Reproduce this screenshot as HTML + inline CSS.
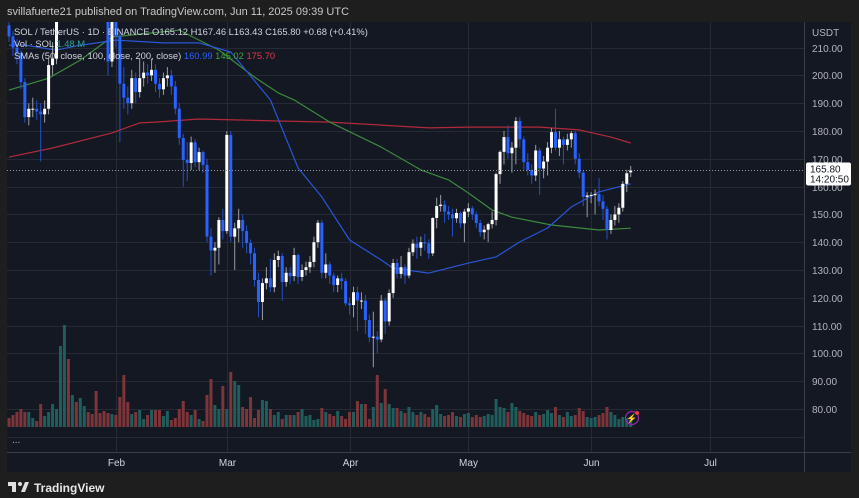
<!DOCTYPE html>
<html><head><meta charset="utf-8"><style>
html,body{margin:0;padding:0;background:#1e1e1e;width:859px;height:498px;overflow:hidden}
svg{display:block;font-family:"Liberation Sans",sans-serif}
</style></head><body>
<svg id="chart" width="859" height="498" viewBox="0 0 859 498">
<rect x="0" y="0" width="859" height="498" fill="#1e1e1e"/>
<text x="7" y="15" font-size="11" fill="#c8c8c8">svillafuerte21 published on TradingView.com, Jun 11, 2025 09:39 UTC</text>
<rect x="7" y="22" width="844" height="450" fill="#141823"/>
<g id="grid"></g>
<g id="vol"></g>
<g id="smas"></g>
<g id="candles"></g>
<rect x="804" y="22" width="47" height="450" fill="#141823"/>
<line x1="804.5" y1="22" x2="804.5" y2="472" stroke="#3a3e48"/>
<line x1="7" y1="452.5" x2="851" y2="452.5" stroke="#3a3e48"/>
<g id="axes"></g>
<text x="812" y="36" font-size="10" fill="#b2b5be">USDT</text>
<g font-size="9.4" xml:space="preserve">
<text x="14" y="35" fill="#d1d4dc">SOL / TetherUS · 1D · BINANCE  O165.12  H167.46  L163.43  C165.80  +0.68 (+0.41%)</text>
<text x="14" y="47" fill="#d1d4dc">Vol · SOL  <tspan fill="#26a69a">1.48 M</tspan></text>
<text x="14" y="59" fill="#d1d4dc">SMAs (50, close, 100, close, 200, close)  <tspan fill="#2962ff">160.99</tspan>  <tspan fill="#43a047">145.02</tspan>  <tspan fill="#e53948">175.70</tspan></text>
</g>
<text x="12" y="443" font-size="10" fill="#b2b5be">...</text>
<g>
<circle cx="632" cy="418" r="6.5" fill="none" stroke="#9c27b0" stroke-width="1.2"/>
<text x="632" y="421.5" font-size="9" fill="#b04fd0" text-anchor="middle">⚡</text>
<circle cx="637" cy="413" r="2" fill="#f23645"/>
</g>
<rect x="0" y="472" width="859" height="26" fill="#1e1e1e"/>
<g>
<rect x="8" y="482" width="8" height="4" fill="#e0e0e0"/><rect x="12" y="482" width="4" height="10" fill="#e0e0e0"/>
<circle cx="20" cy="484" r="2" fill="#e0e0e0"/><polygon points="21,492 25,482 29,482 25,492" fill="#e0e0e0"/>
<text x="34" y="492" font-size="12" font-weight="bold" fill="#e8e8e8">TradingView</text>
</g>
</svg>
<script>
const closes=[214,210,208,197.6,185,188,188,187,186,188,203.7,206,225,240,255,250,258,252,254,256,252,245,238,236,232,205,228,214,197,192,190,199,194,199,201,200,202,197,195,199,200,196,188,177.5,169.6,168.5,175.9,168.8,172.4,167.8,142,137,138,148,144,178.6,142,145,148,144,139.7,136,126.4,118.5,125.3,127,123.8,133.6,135,125.7,129,127.8,135.4,127.5,130,131,132.9,140,147,129,132,128,124.6,127,126,118,117.4,122,119,119,112,105.8,106,105,119,111.5,121.7,132.5,128.6,131,128,136.4,139.5,138,140,139.6,136,148.7,153,153.5,151,150,148.6,150.5,146.8,151,152.2,150,146.9,143.6,144.5,146.5,148,164.5,172.5,177.8,172,174,183.6,177,168.8,166,164,173,166.5,169,174,179.6,174,177,175,177,179.2,170,165,156.3,156.8,157,157.3,154.7,152,144.4,148,150,152.4,161,164.8,165.8];
const opens=[218,214,210,208,197.6,185,188,188,187,186,188,203.7,206,225,240,255,250,258,252,254,256,252,245,238,236,232,205,228,214,197,192,190,199,194,199,201,200,202,197,195,199,200,196,188,177.5,169.6,168.5,175.9,168.8,172.4,167.8,142,137,138,148,144,178.6,142,145,148,144,139.7,136,126.4,118.5,125.3,127,123.8,133.6,135,125.7,129,127.8,135.4,127.5,130,131,132.9,140,147,129,132,128,124.6,127,126,118,117.4,122,119,119,112,105.8,106,105,119,111.5,121.7,132.5,128.6,131,128,136.4,139.5,138,140,139.6,136,148.7,153,153.5,151,150,148.6,150.5,146.8,151,152.2,150,146.9,143.6,144.5,146.5,148,164.5,172.5,177.8,172,174,183.6,177,168.8,166,164,173,166.5,169,174,179.6,174,177,175,177,179.2,170,165,156.3,156.8,157,157.3,154.7,152,144.4,148,150,152.4,161,165.12];
const highs=[222,216,213,209,199,190,192,191,190,191,206,212,228,245,262,265,262,263,258,260,259,254,248,242,240,234,232,232,216,203,196,202,201,206,205,204,206,204,199,201,203,202,198,190,179,176,178,177,174,173,170,145,140,149,152,180,180,147,152,150,146,141,138,129,127,131,134,136,137,136,131,131,138,136,132,133,135,142,148,148,136,133,129,128,129,127,120,124,124,122,121,114,115,108,121,120,123,134,134,135,132,138,141,142,142,143,141,149,156,157,155,153,152,152,151,152,154,153,151,148,146,147,151,165,173,180,182,176,185,185,178,172,168,175,174,171,176,181,188,180,178,179,180,180,172,166,158,158,159,163,157,153,150,153,154,162,166,167.46];
const lows=[212,207,204,195,183,182,185,184,169,183,186,200,204,222,236,245,246,248,246,250,247,240,232,230,226,200,203,210,176,188,186,188,190,192,196,197,198,194,192,193,196,193,186,175,160,162,166,167,166,165,140,128,129,132,141,143,140,130,140,138,136,132,124,113,112,123,122,122,131,119,124,125,126,125,126,128,129,131,138,127,127,125,122,122,123,117,114,113,108,116,107,104,95,100,104,107,110,120,127,127,125,127,135,134,135,137,134,135,145,151,147,148,142,147,145,140,149,148,145,142,141,140,145,146,161,168,170,165,168,174,166,164,161,162,157,163,164,172,173,171,168,173,174,168,163,153,149,154,150,153,148,141,143,146,147,151,158,163.43];
const volumes=[0.9,1.2,1.5,1.8,1.5,1.5,0.9,0.6,2.3,1.1,1.5,2.3,1.8,8.1,10.2,6.8,3.2,2.5,2.9,2.1,1.5,1.3,3.6,1.4,1.6,1.4,1.3,1.2,3.0,5.2,2.5,1.3,1.5,1.7,0.8,1.2,1.7,1.7,1.7,1.1,1.6,0.7,0.9,1.8,2.6,1.5,1.2,1.7,0.8,0.6,3.2,4.8,2.2,1.8,4.1,1.8,5.5,4.6,4.2,2.0,1.8,3.0,0.9,1.7,2.7,2.6,1.8,1.2,1.5,0.8,1.2,1.2,1.2,1.5,1.8,1.1,1.2,0.7,0.8,1.9,1.5,1.3,1.1,1.6,1.1,0.8,1.5,1.5,2.6,2.3,2.3,0.8,2.0,5.2,2.4,3.8,2.3,1.9,1.9,1.6,1.4,2.0,1.5,1.2,1.5,1.3,1.0,1.8,2.2,1.3,1.1,1.2,1.5,1.1,1.0,1.3,1.4,1.0,1.2,1.0,1.1,1.3,1.2,2.8,2.0,1.9,1.5,2.4,2.0,1.6,1.4,1.2,1.1,1.5,1.2,1.3,1.7,1.4,2.0,1.2,1.0,1.5,1.1,1.2,1.9,1.6,1.0,0.9,1.0,1.2,1.4,2.0,1.5,1.2,0.8,1.0,0.9,0.7];
const sma50Idx=[0,4,12,17,27,39,48,56,66,73,79,86,94,97,106,116,123,129,136,142,149,157];
const sma50=[210.9,210.9,209.1,210.6,212.7,211.7,211.7,208.4,191.2,166.7,156.3,140.8,133.6,130.7,128.9,132.5,134.7,140.1,145.1,152.7,158.1,160.99];
const sma100Idx=[0,10,18,26,43,53,62,68,72,81,94,104,111,116,122,127,137,149,157];
const sma100=[194.7,199,205.5,213.8,216.3,209.1,199.4,193.7,191.2,183.2,174.2,166,162.4,157.7,151.6,149,146.2,144.4,145.02];
const sma200Idx=[0,11,26,33,37,48,68,81,106,116,134,144,152,157];
const sma200=[170.6,173.9,179.3,182.9,183.2,184.3,183.6,183.2,181.1,181.4,181.4,180.4,177.8,175.7];
const priceTicks=[80,90,100,110,120,130,140,150,160,170,180,190,200,210];
const monthLabels=["Feb","Mar","Apr","May","Jun","Jul"];
const monthIdx=[27,55,86,116,147,177];

const NS="http://www.w3.org/2000/svg";
const X0=9,STEP=3.96,PLEFT=7,PRIGHT=804,PTOP=22,PBOT=452;
function xS(i){return X0+i*STEP;}
function yS(p){return 409-(p-80)*2.78;}
function vS(v){return 427-v*10;}
function mk(tag,attrs,parent){const e=document.createElementNS(NS,tag);for(const k in attrs)e.setAttribute(k,attrs[k]);parent.appendChild(e);return e;}
const grid=document.getElementById('grid'),axes=document.getElementById('axes');
priceTicks.forEach(p=>{
  const y=Math.round(yS(p))+0.5;
  const l=mk('line',{x1:PLEFT,x2:PRIGHT,y1:y,y2:y,stroke:'#262a35'},grid);
  
  
  const t=mk('text',{x:812,y:y+3.5,'font-size':10,fill:'#b2b5be'},axes);
  t.textContent=p.toFixed(2);
  
  
});
{const l=mk('line',{x1:PLEFT,x2:PRIGHT,y1:437.5,y2:437.5,stroke:'#262a35'},grid);

}
monthIdx.forEach((m,k)=>{
  const x=Math.round(xS(m))+0.5;
  const l=mk('line',{x1:x,x2:x,y1:PTOP,y2:PBOT,stroke:'#262a35'},grid);
  
  
  const t=mk('text',{x:x,y:466,'font-size':10,fill:'#d1d4dc','text-anchor':'middle'},axes);
  t.textContent=monthLabels[k];
  
  
});
const vol=document.getElementById('vol');
const n=Math.min(closes.length,volumes.length);
for(let i=0;i<n;i++){
  const up=closes[i]>=opens[i];
  const y=vS(volumes[i]);
  const r=mk('rect',{x:xS(i)-1.5,y:y,width:3,height:427-y,fill:up?'#1f5e5c':'#7d3539'},vol);
  
  
}
const smaG=document.getElementById('smas');
[[sma200Idx,sma200,'#b22a3a','sma-200-line'],[sma100Idx,sma100,'#3d8a3e','sma-100-line'],[sma50Idx,sma50,'#2a55d6','sma-50-line']].forEach(([ix,vals,c,name])=>{
  let d='';
  for(let k=0;k<vals.length;k++){d+=(k?'L':'M')+xS(ix[k]).toFixed(1)+','+yS(vals[k]).toFixed(1);}
  const p=mk('path',{d:d,fill:'none',stroke:c,'stroke-width':1.2,'stroke-linejoin':'round'},smaG);
  
  
});
const cg=document.getElementById('candles');
const clip=mk('clipPath',{id:'pc'},document.getElementById('chart'));
mk('rect',{x:PLEFT,y:PTOP,width:PRIGHT-PLEFT,height:PBOT-PTOP},clip);
cg.setAttribute('clip-path','url(#pc)');smaG.setAttribute('clip-path','url(#pc)');
for(let i=0;i<closes.length;i++){
  const up=closes[i]>=opens[i];
  const x=xS(i);
  const g=mk('g',{},cg);
  
  
  mk('line',{x1:x,x2:x,y1:yS(highs[i]),y2:yS(lows[i]),stroke:up?'#9a9ca2':'#2450c8','stroke-width':1},g);
  const yt=yS(Math.max(opens[i],closes[i])),yb=yS(Math.min(opens[i],closes[i]));
  mk('rect',{x:x-1.5,y:yt,width:3,height:Math.max(1,yb-yt),fill:up?'#ffffff':'#2962ff'},g);
}
const last=closes[closes.length-1];
const ly=yS(last);
{const l=mk('line',{x1:PLEFT,x2:PRIGHT,y1:ly,y2:ly,stroke:'#9598a1','stroke-dasharray':'1,2'},axes);


const b=mk('rect',{x:806,y:ly-8,width:45,height:23,fill:'#ffffff',rx:2},axes);


const t1=mk('text',{x:810,y:ly+2,'font-size':10,fill:'#131722'},axes);t1.textContent=last.toFixed(2);


const t2=mk('text',{x:810,y:ly+12,'font-size':10,fill:'#131722'},axes);t2.textContent='14:20:50';

}
</script>
</body></html>
